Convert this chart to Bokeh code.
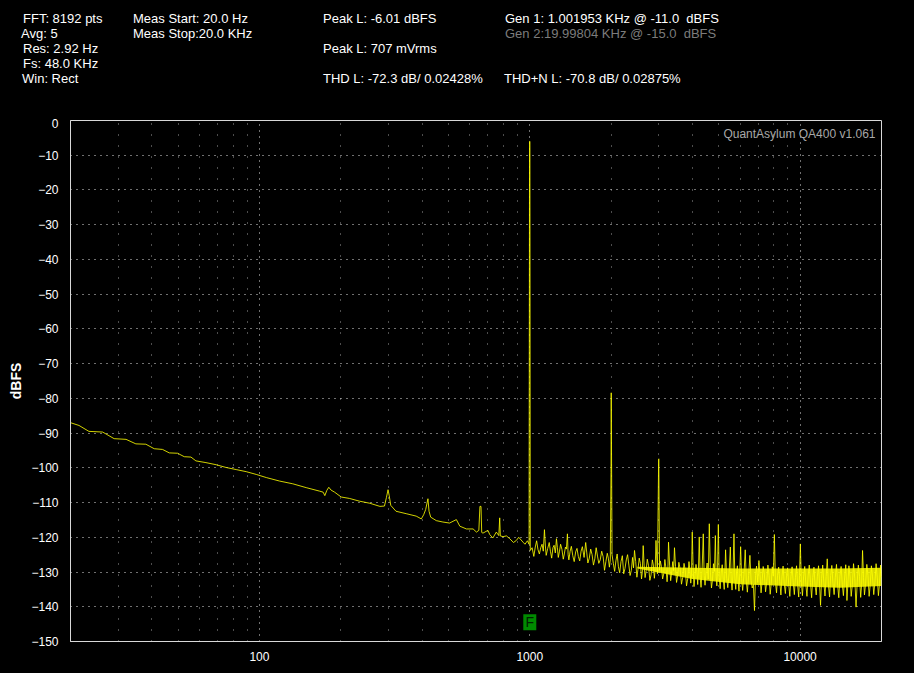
from bokeh.plotting import figure
from bokeh.models import Range1d, FixedTicker, Label, Div
from bokeh.layouts import column
from bokeh.embed import file_html
from bokeh.resources import INLINE
from bokeh.core.properties import value

# ---------------- data ----------------
# smooth low-frequency part of the spectrum (Hz, dBFS)
low_hz = [20, 21.5, 23.4, 26.3, 29.0, 32.1, 34.9, 38.0, 40.8, 43.8,
          46.4, 49.8, 52.7, 55.8, 58.2, 63.4, 69.1, 75.3, 82.0, 89.3,
          97.3, 106, 118.6, 132.8, 148.9, 166.7, 172, 174.5, 177.5, 180.5,
          184, 189.6, 200.6, 215, 234.5, 256, 279, 290, 295, 299,
          302, 306, 320, 349, 380, 397, 405, 412, 420, 424,
          430, 451, 477, 505, 535, 551, 583, 617, 635, 648,
          654, 660, 664, 671, 700, 711, 730, 752, 768, 774,
          778, 796, 820, 843, 870, 892, 910, 944, 960, 980,
          994]
low_db = [-87.0, -87.8, -89.5, -89.7, -91.6, -91.8, -93.1, -93.2, -94.5, -94.7,
          -95.7, -95.8, -96.8, -96.9, -98.0, -98.5, -99.1, -99.9, -100.5, -101.1,
          -101.9, -102.8, -103.8, -104.6, -105.7, -106.7, -107.0, -108.0, -106.5, -105.6,
          -106.4, -107.0, -108.4, -108.8, -109.6, -110.2, -111.1, -111.0, -108.5, -106.3,
          -108.0, -110.8, -112.5, -113.2, -113.9, -114.7, -113.5, -112.0, -108.9, -112.5,
          -114.2, -115.2, -115.6, -115.9, -114.9, -116.8, -117.6, -117.6, -118.5, -118.0,
          -111.1, -111.1, -118.6, -118.8, -118.0, -119.2, -120.2, -118.5, -119.5, -114.4,
          -119.6, -119.8, -119.6, -120.4, -121.5, -120.9, -120.0, -121.4, -122.0, -121.0,
          -122.0]

# noisy part above the fundamental (Hz, dBFS): upper / lower excursions
noise_hz = [1004, 1035, 1060, 1085, 1110, 1133, 1150, 1180, 1205, 1230,
            1255, 1275, 1300, 1330, 1355, 1378, 1395, 1425, 1460, 1495,
            1530, 1565, 1610, 1640, 1680, 1720, 1760, 1800, 1845, 1890,
            1935, 1970, 2015, 2060, 2105, 2150, 2200, 2250, 2300, 2350,
            2400, 2440, 2490, 2540, 2590, 2627, 2670, 2720, 2780, 2840,
            2890, 2930, 2965, 3040, 3100, 3160, 3220, 3260, 3320, 3380,
            3430, 3490, 3560, 3640, 3720, 3800, 3880, 3940, 3990, 4050,
            4120, 4180, 4236, 4300, 4383, 4450, 4530, 4614, 4700, 4780,
            4858, 4920, 4983, 5060, 5150, 5240, 5300, 5400, 5520, 5600,
            5693, 5780, 5860, 5940, 6025, 6130, 6266, 6380, 6520, 6650,
            6780, 6900, 7040, 7170, 7300, 7450, 7600, 7750, 7890, 8030,
            8180, 8330, 8490, 8650, 8820, 8990, 9160, 9340, 9520, 9700,
            9880, 10020, 10200, 10400, 10600, 10810, 11030, 11250, 11470, 11700,
            11900, 12120, 12360, 12600, 12850, 13100, 13360, 13630, 13900, 14180,
            14460, 14750, 14900, 15150, 15450, 15760, 16100, 16420, 16750, 17020,
            17300, 17650, 18000, 18350, 18720, 19100, 19480, 19850, 20000]
noise_db = [-123.8, -125.5, -121.0, -124.8, -122.0, -117.8, -125.2, -121.5, -126.0, -122.3,
            -120.4, -125.8, -122.0, -126.3, -122.8, -119.0, -126.5, -122.6, -127.0, -123.2,
            -126.8, -122.7, -121.5, -127.4, -123.4, -128.0, -123.0, -127.5, -124.0, -129.5,
            -124.6, -128.6, -125.0, -129.8, -124.8, -130.2, -125.3, -129.0, -125.0, -131.0,
            -125.8, -123.8, -131.5, -126.0, -132.0, -122.4, -131.6, -126.3, -132.4, -126.5,
            -131.8, -120.9, -130.5, -126.8, -132.0, -126.4, -132.8, -121.4, -132.5, -127.0,
            -123.0, -133.0, -127.2, -133.5, -127.5, -134.0, -127.0, -133.2, -118.5, -134.2,
            -127.8, -133.6, -119.9, -134.4, -119.0, -133.8, -127.4, -116.1, -134.6, -127.6,
            -119.5, -134.0, -116.3, -134.8, -127.9, -135.0, -123.6, -134.5, -122.8, -135.2,
            -119.0, -135.0, -128.2, -135.5, -122.7, -135.3, -123.6, -135.8, -125.2, -134.6,
            -141.1, -128.3, -126.7, -136.0, -128.4, -135.7, -128.0, -136.4, -128.5, -119.2,
            -136.0, -128.6, -136.6, -128.3, -136.2, -128.8, -137.0, -128.5, -136.5, -128.2,
            -137.2, -121.9, -136.8, -128.4, -137.0, -128.0, -137.4, -128.6, -136.6, -128.2,
            -139.6, -128.0, -136.9, -126.2, -137.2, -128.1, -136.5, -127.8, -137.4, -128.4,
            -136.8, -127.9, -138.2, -128.2, -137.0, -127.6, -140.1, -128.0, -137.3, -123.8,
            -136.6, -127.8, -137.0, -128.2, -136.5, -127.6, -136.8, -128.0, -131.5]

# in-between noise samples (Hz, dBFS)
mid_hz = [1020, 1048, 1072, 1098, 1122, 1142, 1165, 1192, 1218, 1243,
          1265, 1288, 1315, 1342, 1366, 1386, 1410, 1442, 1478, 1512,
          1548, 1588, 1625, 1660, 1700, 1740, 1780, 1822, 1868, 1912,
          1952, 1985,
          2037, 2082, 2127, 2175, 2225, 2275, 2325, 2375, 2420, 2465,
          2515, 2565, 2608, 2648, 2695, 2750, 2810, 2865, 2910, 3020,
          3070, 3130, 3190, 3240, 3290, 3350, 3405, 3460, 3525, 3600,
          3680, 3760, 3840, 3910, 3965, 4020, 4085, 4150, 4208, 4268,
          4340, 4416, 4490, 4572, 4657, 4740, 4820, 4890, 4950, 5020,
          5105, 5195, 5270, 5350, 5460, 5560, 5645, 5735, 5820, 5900,
          5980, 6078, 6198, 6323, 6450, 6585, 6715, 6840, 6970, 7105,
          7235, 7375, 7525, 7675, 7820, 7960, 8105, 8255, 8410, 8570,
          8735, 8905, 9075, 9250, 9430, 9610, 9790, 9950, 10110, 10300,
          10500, 10705, 10920, 11140, 11360, 11585, 11800, 12010, 12240, 12480,
          12725, 12975, 13230, 13495, 13765, 14040, 14320, 14605, 14825, 15025,
          15300, 15605, 15930, 16260, 16585, 16885, 17160, 17475, 17825, 18175,
          18535, 18910, 19290, 19665, 19925]
mid_db = [-123.0, -122.8, -123.5, -123.0, -124.0, -122.5, -123.2, -124.0, -123.0, -124.5,
          -123.0, -124.0, -123.5, -124.8, -123.4, -125.0, -124.0, -125.3, -124.2, -125.5,
          -124.0, -125.8, -124.5, -126.0, -125.0, -126.2, -125.4, -126.5, -125.6, -127.0,
          -126.0, -126.5,
          -127.5, -126.8, -128.5, -127.0, -130.5, -126.5, -128.0, -129.5, -128.8, -127.0,
          -129.0, -127.5, -130.0, -128.0, -129.5, -128.2, -130.8, -128.0, -129.0, -129.5,
          -128.5, -130.5, -129.0, -130.2, -128.0, -130.0, -129.6, -128.4, -131.0, -129.2,
          -131.5, -129.5, -131.8, -129.4, -130.6, -128.8, -131.0, -130.0, -129.0, -131.5,
          -129.2, -131.0, -129.6, -132.0, -130.0, -132.3, -129.8, -131.4, -128.8, -131.6,
          -130.3, -132.2, -130.0, -131.8, -130.5, -132.5, -130.6, -132.0, -130.0, -132.8,
          -130.4, -131.9, -130.8, -132.6, -131.0, -132.4, -133.5, -131.0, -133.0, -130.8,
          -132.6, -130.6, -132.8, -131.0, -133.2, -131.2, -133.0, -130.9, -132.7, -131.3,
          -133.4, -131.0, -133.6, -131.2, -133.0, -131.5, -133.8, -131.0, -133.2, -131.4,
          -133.6, -131.1, -133.0, -131.6, -133.9, -131.2, -133.4, -131.8, -133.1, -131.3,
          -133.7, -131.0, -133.3, -131.5, -133.8, -131.2, -133.5, -131.7, -132.5, -133.2,
          -131.4, -133.6, -131.8, -133.0, -131.3, -133.7, -131.6, -133.2, -131.0, -133.5,
          -131.4, -133.0, -131.7, -133.3, -131.0]

# fundamental and harmonics (Hz, dBFS)
peak_hz = [998, 1001, 1997, 2001, 2997, 3001]
peak_db = [-6.0, -6.0, -101.4, -78.4, -97.6, -97.4]

# dense core of the noise floor (Hz, dBFS)
band_hz = [2500, 4000, 6000, 10000, 14000, 20000]
band_hi = [-128.5, -128.8, -129.0, -129.0, -129.0, -128.8]
band_lo = [-129.0, -132.0, -133.5, -134.2, -134.5, -134.0]

# marker
marker_hz = [1000]
marker_db = [-144.45]
marker_txt = ["F"]

x_ticks = [100, 1000, 10000]
x_minor = [30, 40, 50, 60, 70, 80, 90, 200, 300, 400, 500, 600, 700, 800, 900,
           2000, 3000, 4000, 5000, 6000, 7000, 8000, 9000]
y_ticks = [0, -10, -20, -30, -40, -50, -60, -70, -80, -90, -100, -110, -120, -130, -140, -150]

header_col1 = ["FFT: 8192 pts", "Avg: 5", "Res: 2.92 Hz", "Fs: 48.0 KHz", "Win: Rect"]
header_col2 = ["Meas Start: 20.0 Hz", "Meas Stop:20.0 KHz"]
header_col3 = ["Peak L: -6.01 dBFS", "Peak L: 707 mVrms", "THD L: -72.3 dB/ 0.02428%"]
gen1 = "Gen 1: 1.001953 KHz @ -11.0  dBFS"
gen2 = "Gen 2:19.99804 KHz @ -15.0  dBFS"
thdn = "THD+N L: -70.8 dB/ 0.02875%"
watermark = "QuantAsylum QA400 v1.061"

# ---------------- layout constants ----------------
FONT = "Liberation Sans"
W = 914
HEAD_H = 118
FL, FW, FH = 70, 811, 521
BLACK = {"background-color": "#000000"}

# ---------------- header strip (inline SVG text) ----------------
items = []


def add_head(txt, px, py, color="#ffffff"):
    items.append('<text x="%d" y="%d" fill="%s" xml:space="preserve">%s</text>' % (px, py, color, txt))


col1_x = [23, 21, 23, 23, 22]
for i, t in enumerate(header_col1):
    add_head(t, col1_x[i], 23 + 15 * i)
for i, t in enumerate(header_col2):
    add_head(t, 133, 23 + 15 * i)
add_head(header_col3[0], 323, 23)
add_head(header_col3[1], 323, 53)
add_head(header_col3[2], 323, 83)
add_head(gen1, 505, 23)
add_head(gen2, 505, 38, color="#7c7c7c")
add_head(thdn, 504, 83)

svg = ('<svg xmlns="http://www.w3.org/2000/svg" width="%d" height="%d" xml:space="preserve" '
       'style="display:block;background:#000000;white-space:pre" '
       'font-family="%s" font-size="13px">%s</svg>') % (W, HEAD_H, FONT, "".join(items))
head = Div(text=svg, width=W, height=HEAD_H, margin=0,
           styles={"background-color": "#000000", "padding": "0px"})

# ---------------- main plot ----------------
p = figure(x_axis_type="log", x_range=Range1d(20, 20000), y_range=Range1d(-150, 0),
           frame_width=FW, frame_height=FH, title=None,
           min_border_left=FL, min_border_top=2, min_border_right=W - FL - FW,
           min_border_bottom=32,
           output_backend="svg", toolbar_location=None,
           background_fill_color="#000000", border_fill_color="#000000",
           styles=BLACK)
p.outline_line_color = "#d8d8d8"
p.outline_line_width = 1

p.xaxis.ticker = FixedTicker(ticks=x_ticks, minor_ticks=x_minor)
p.xaxis.major_label_overrides = {t: str(t) for t in x_ticks}
p.yaxis.ticker = FixedTicker(ticks=y_ticks)
for ax in (p.xaxis, p.yaxis):
    ax.axis_line_color = "#d8d8d8"
    ax.major_tick_line_color = None
    ax.minor_tick_line_color = None
    ax.major_tick_out = 0
    ax.major_tick_in = 0
    ax.minor_tick_out = 0
    ax.minor_tick_in = 0
    ax.major_label_text_color = "#ffffff"
    ax.major_label_text_font = FONT
    ax.major_label_text_font_size = "12px"
p.xaxis.major_label_standoff = 10
p.yaxis.major_label_standoff = 12
p.yaxis.axis_label = "dBFS"
p.yaxis.axis_label_text_color = "#ffffff"
p.yaxis.axis_label_text_font = FONT
p.yaxis.axis_label_text_font_style = "bold"
p.yaxis.axis_label_text_font_size = "14px"
p.yaxis.axis_label_standoff = 4

p.ygrid.grid_line_color = "#e0e0e0"
p.ygrid.grid_line_dash = "1 5"
p.xgrid.grid_line_color = "#e0e0e0"
p.xgrid.grid_line_dash = "1 5"
p.xgrid.minor_grid_line_color = "#9a9a9a"
p.xgrid.minor_grid_line_dash = "1 10"

# spectrum trace
pts = sorted(zip(low_hz + noise_hz + mid_hz + peak_hz, low_db + noise_db + mid_db + peak_db))
trace_hz = [a for a, b in pts]
trace_db = [b for a, b in pts]
p.varea(x=band_hz, y1=band_lo, y2=band_hi, fill_color="#ffff00", fill_alpha=0.85)
p.line(trace_hz, trace_db, line_color="#ffff00", line_alpha=0.82, line_width=1)

# marker
p.rect(x=marker_hz, y=marker_db, width=13, height=16, width_units="screen",
       height_units="screen", fill_color="#008a00", line_color=None)
p.text(x=marker_hz, y=marker_db, text=marker_txt, text_font=value(FONT),
       text_font_size="14px", text_color="#002200", text_align="center",
       text_baseline="middle")

# watermark inside the frame (frame-relative screen units)
p.add_layout(Label(x=FW - 6, y=FH - 13, x_units="screen", y_units="screen",
                   text=watermark, text_font=FONT, text_font_size="12px",
                   text_color="#a8a8a8", text_align="right", text_baseline="alphabetic"))

layout = column(head, p, spacing=0, styles=BLACK)
open("out.html", "w").write(file_html(layout, INLINE))
